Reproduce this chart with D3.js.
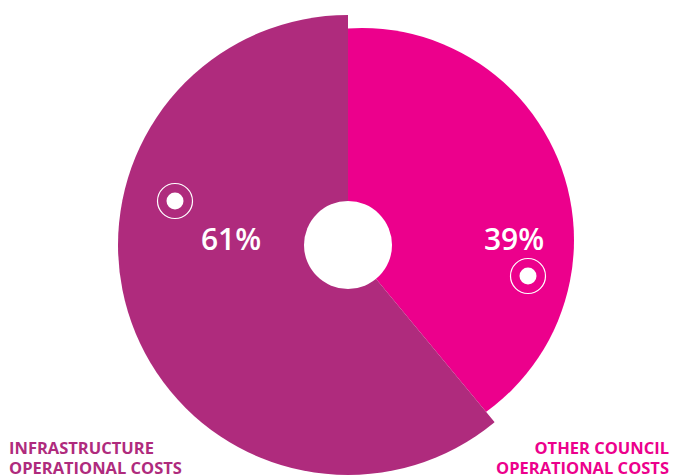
<!DOCTYPE html>
<html>
<head>
<meta charset="utf-8">
<script src="https://cdn.jsdelivr.net/npm/d3@7"></script>
<style>
  html, body { margin: 0; padding: 0; background: #ffffff; }
  svg { display: block; }
</style>
</head>
<body>
<svg id="chart" width="675" height="475"></svg>
<script>
// Cost split between the two operational cost groups
const categories = ["OTHER COUNCIL OPERATIONAL COSTS", "INFRASTRUCTURE OPERATIONAL COSTS"];
const values = [39, 61];
const valueLabels = ["39%", "61%"];
const colors = ["#EC008C", "#AF2B7D"];

const svg = d3.select("#chart");
const cx = 348, cy = 245;
const outerR = [212, 230];      // magenta drawn slightly smaller, purple full size
const arcShift = [[14, -5], [0, 0]]; // magenta disc is nudged up/right inside its wedge
const holeR = 44;

const pie = d3.pie().sort(null).value(d => d.value);
const slices = pie(categories.map((c, i) => ({ name: c, value: values[i], color: colors[i] })));

const defs = svg.append("defs");
const wedge = d3.arc().innerRadius(0).outerRadius(400);

const g = svg.append("g").attr("transform", `translate(${cx},${cy})`);

slices.forEach((s, i) => {
  const id = "wedge-" + i;
  defs.append("clipPath").attr("id", id)
    .append("path").attr("d", wedge(s));
  g.append("circle")
    .attr("clip-path", `url(#${id})`)
    .attr("cx", arcShift[i][0])
    .attr("cy", arcShift[i][1])
    .attr("r", outerR[i])
    .attr("fill", s.data.color);
});

// white hole in the middle
g.append("circle").attr("r", holeR).attr("fill", "#ffffff");

// percentage labels
const labelPos = [[166, 5], [-117, 5]];
slices.forEach((s, i) => {
  g.append("text")
    .attr("x", labelPos[i][0])
    .attr("y", labelPos[i][1])
    .attr("text-anchor", "middle")
    .attr("font-family", "'Open Sans', 'Noto Sans', sans-serif")
    .attr("font-weight", 600)
    .attr("font-size", 30)
    .attr("fill", "#ffffff")
    .text(valueLabels[i]);
});

// target-style markers
const markerPos = [[180, 31], [-173, -44]];
markerPos.forEach(p => {
  g.append("circle").attr("cx", p[0]).attr("cy", p[1]).attr("r", 17.5)
    .attr("fill", "none").attr("stroke", "#ffffff").attr("stroke-width", 1.2);
  g.append("circle").attr("cx", p[0]).attr("cy", p[1]).attr("r", 8.5)
    .attr("fill", "#ffffff");
});

// category captions at the bottom corners
const captionFont = "'Open Sans', 'Noto Sans', sans-serif";
function caption(lines, x, anchor, color) {
  const t = svg.append("text")
    .attr("x", x).attr("y", 454)
    .attr("text-anchor", anchor)
    .attr("font-family", captionFont)
    .attr("font-weight", 700)
    .attr("font-size", 16.5)
    .attr("fill", color);
  lines.forEach((l, k) => {
    t.append("tspan").attr("x", x).attr("dy", k === 0 ? 0 : 20).text(l);
  });
}
caption(["INFRASTRUCTURE", "OPERATIONAL COSTS"], 9, "start", colors[1]);
caption(["OTHER COUNCIL", "OPERATIONAL COSTS"], 669, "end", colors[0]);
</script>
</body>
</html>
